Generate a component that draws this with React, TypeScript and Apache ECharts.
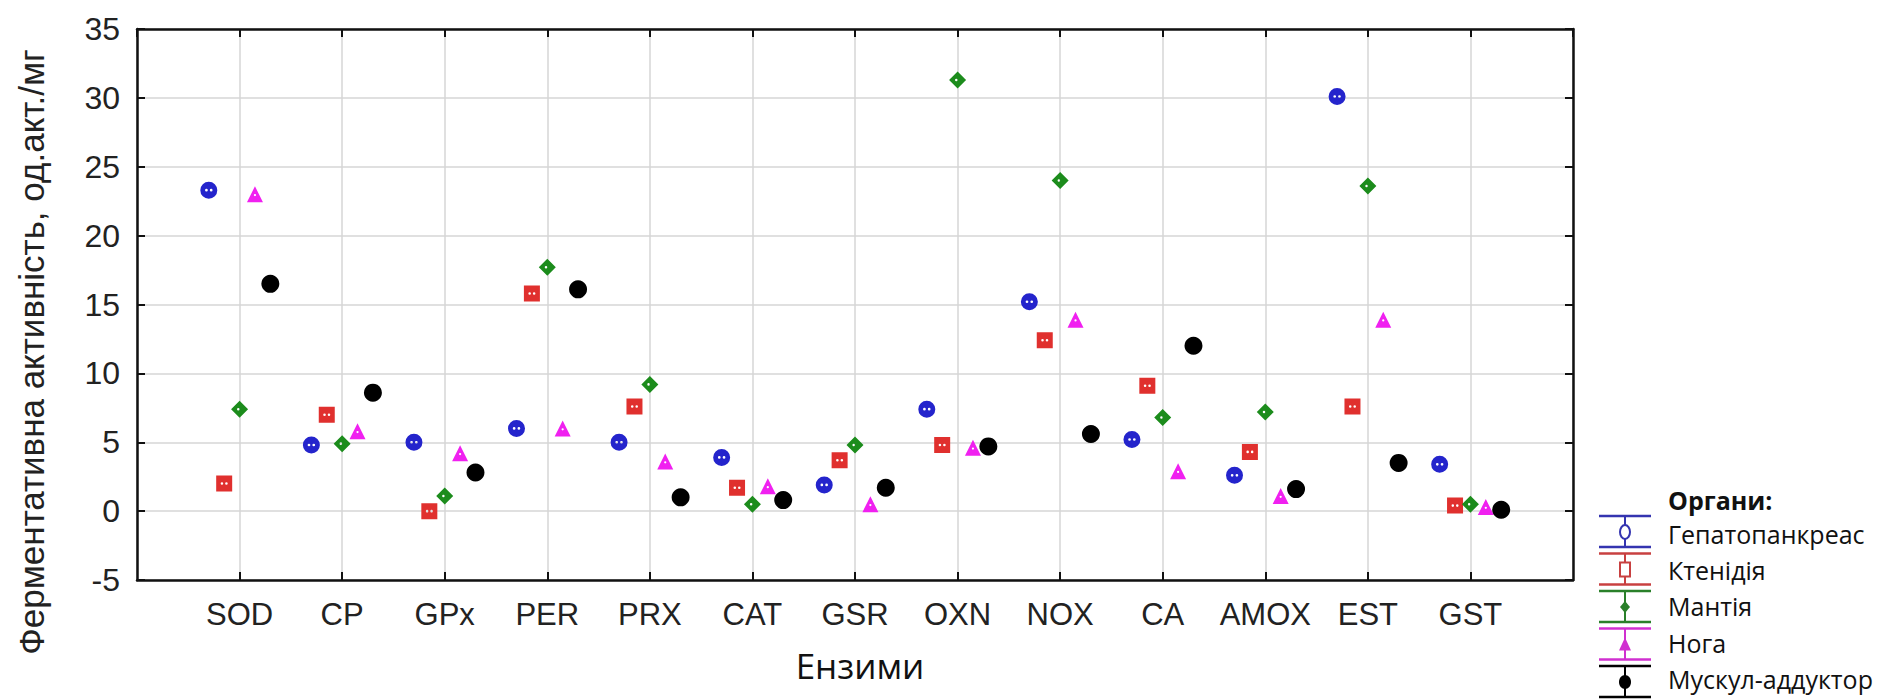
import React, { useEffect, useRef } from "react";
import * as echarts from "echarts";

const categories = ["SOD", "CP", "GPx", "PER", "PRX", "CAT", "GSR", "OXN", "NOX", "CA", "AMOX", "EST", "GST"];
const yTicks = [-5, 0, 5, 10, 15, 20, 25, 30, 35];

const seriesNames = ["Гепатопанкреас", "Ктенідія", "Мантія", "Нога", "Мускул-аддуктор"];
const hepatopancreas = [23.3, 4.8, 5.0, 6.0, 5.0, 3.9, 1.9, 7.4, 15.2, 5.2, 2.6, 30.1, 3.4];
const ctenidia = [2.0, 7.0, 0.0, 15.8, 7.6, 1.7, 3.7, 4.8, 12.4, 9.1, 4.3, 7.6, 0.4];
const mantle = [7.4, 4.9, 1.1, 17.7, 9.2, 0.5, 4.8, 31.3, 24.0, 6.8, 7.2, 23.6, 0.5];
const foot = [23.0, 5.8, 4.2, 6.0, 3.6, 1.8, 0.5, 4.6, 13.9, 2.9, 1.1, 13.9, 0.3];
const adductor = [16.5, 8.6, 2.8, 16.1, 1.0, 0.8, 1.7, 4.7, 5.6, 12.0, 1.6, 3.5, 0.1];

const allValues = [hepatopancreas, ctenidia, mantle, foot, adductor];
const offsets = [-0.3, -0.15, 0, 0.15, 0.3];
const colors = ["#2424cc", "#e0302e", "#1c8c1c", "#f020f0", "#000000"];
const legendColors = ["#3434b0", "#c84040", "#2a802a", "#d030d0", "#000000"];

// marker shapes with two small "holes" (opposite winding)
const holes = "M5.6,10 A1.6,1.6 0 1,0 8.8,10 A1.6,1.6 0 1,0 5.6,10 Z M11.2,10 A1.6,1.6 0 1,0 14.4,10 A1.6,1.6 0 1,0 11.2,10 Z";
const circleDots = "path://M10,0 A10,10 0 1,1 10,20 A10,10 0 1,1 10,0 Z " + holes;
const rectDots = "path://M0,0 L20,0 L20,20 L0,20 Z " + holes;
const diamondDots = "path://M10,0 L20,10 L10,20 L0,10 Z M7,10 A1.5,1.5 0 1,0 10,10 A1.5,1.5 0 1,0 7,10 Z";
const triangleShape = "path://M10,0 L20,20 L0,20 Z M8.6,11 A1.4,1.4 0 1,0 11.4,11 A1.4,1.4 0 1,0 8.6,11 Z";
const symbols = [circleDots, rectDots, diamondDots, triangleShape, "circle"];
const symbolSizes = [17, 16, 17, 16, 18];

const TICK_FONT = "Liberation Sans, Arial, sans-serif";
const LEG_FONT = "Open Sans, Noto Sans, sans-serif";

function legendGraphics() {
  const els: any[] = [];
  els.push({
    type: "text",
    x: 1668,
    y: 500,
    style: { text: "Органи:", font: `bold 25px ${LEG_FONT}`, fill: "#111", verticalAlign: "middle", align: "left" },
  });
  seriesNames.forEach((name, i) => {
    const top = 516 + 37.5 * i;
    const bot = top + 31;
    const cx = 1625;
    const cy = top + 16;
    const c = legendColors[i];
    els.push({ type: "line", shape: { x1: cx, y1: top, x2: cx, y2: bot }, style: { stroke: c, lineWidth: 2 } });
    els.push({ type: "line", shape: { x1: 1599, y1: top, x2: 1651, y2: top }, style: { stroke: c, lineWidth: 2.5 } });
    els.push({ type: "line", shape: { x1: 1599, y1: bot, x2: 1651, y2: bot }, style: { stroke: c, lineWidth: 2.5 } });
    if (i === 0) {
      els.push({ type: "ellipse", shape: { cx, cy, rx: 5, ry: 7 }, style: { fill: "#fff", stroke: c, lineWidth: 2 } });
    } else if (i === 1) {
      els.push({ type: "rect", shape: { x: cx - 5, y: cy - 7, width: 10, height: 14 }, style: { fill: "#fff", stroke: c, lineWidth: 2 } });
    } else if (i === 2) {
      els.push({ type: "polygon", shape: { points: [[cx, cy - 6], [cx + 5, cy], [cx, cy + 6], [cx - 5, cy]] }, style: { fill: c } });
    } else if (i === 3) {
      els.push({ type: "polygon", shape: { points: [[cx, cy - 7], [cx + 6, cy + 6], [cx - 6, cy + 6]] }, style: { fill: c } });
    } else {
      els.push({ type: "ellipse", shape: { cx, cy, rx: 6, ry: 7 }, style: { fill: c } });
    }
    els.push({
      type: "text",
      x: 1668,
      y: 534 + 36.2 * i,
      style: { text: name, font: `25px ${LEG_FONT}`, fill: "#111", verticalAlign: "middle", align: "left" },
    });
  });
  return els;
}

export default function App() {
  const ref = useRef<HTMLDivElement>(null);
  useEffect(() => {
    if (!ref.current) return;
    const chart = echarts.init(ref.current, undefined, { renderer: "svg" });
    const axisLine = { show: true, onZero: false, lineStyle: { color: "#111", width: 2.5 } };
    const axisTick = { show: true, inside: true, length: 8, lineStyle: { color: "#111", width: 2 } };
    const option: any = {
      animation: false,
      backgroundColor: "#ffffff",
      grid: { left: 137, top: 29, width: 1436, height: 551, containLabel: false },
      xAxis: [
        {
          type: "value",
          position: "bottom",
          min: 0,
          max: categories.length + 1,
          interval: 1,
          axisLine,
          axisTick,
          axisLabel: {
            show: true,
            margin: 19,
            fontSize: 31,
            fontFamily: TICK_FONT,
            color: "#222",
            showMinLabel: false,
            showMaxLabel: false,
            formatter: (v: number) => (v >= 1 && v <= categories.length ? categories[v - 1] : ""),
          },
          splitLine: { show: true, lineStyle: { color: "#d6d6d6", width: 1.5 } },
        },
        {
          type: "value",
          position: "top",
          min: 0,
          max: categories.length + 1,
          interval: 1,
          axisLine,
          axisTick,
          axisLabel: { show: false },
          splitLine: { show: false },
        },
      ],
      yAxis: [
        {
          type: "value",
          position: "left",
          min: yTicks[0],
          max: yTicks[yTicks.length - 1],
          interval: 5,
          axisLine,
          axisTick,
          axisLabel: { margin: 17, fontSize: 32, fontFamily: TICK_FONT, color: "#222" },
          splitLine: { show: true, lineStyle: { color: "#d6d6d6", width: 1.5 } },
        },
        {
          type: "value",
          position: "right",
          min: yTicks[0],
          max: yTicks[yTicks.length - 1],
          interval: 5,
          axisLine,
          axisTick,
          axisLabel: { show: false },
          splitLine: { show: false },
        },
      ],
      series: allValues.map((vals, s) => ({
        type: "scatter",
        name: seriesNames[s],
        xAxisIndex: 0,
        yAxisIndex: 0,
        symbol: symbols[s],
        symbolSize: symbolSizes[s],
        itemStyle: { color: colors[s], opacity: 1 },
        data: vals.map((v, i) => [i + 1 + offsets[s], v]),
        z: 3,
      })),
      graphic: [
        {
          type: "text",
          x: 31,
          y: 352,
          rotation: Math.PI / 2,
          style: {
            text: "Ферментативна активність, од.акт./мг",
            font: `35px ${TICK_FONT}`,
            fill: "#222",
            align: "center",
            verticalAlign: "middle",
          },
        },
        {
          type: "text",
          x: 860,
          y: 665,
          style: { text: "Ензими", font: `35px ${LEG_FONT}`, fill: "#111", align: "center", verticalAlign: "middle" },
        },
        ...legendGraphics(),
      ],
    };
    chart.setOption(option);
    return () => chart.dispose();
  }, []);
  return <div ref={ref} style={{ position: "fixed", left: 0, top: 0, width: 1896, height: 699 }} />;
}
